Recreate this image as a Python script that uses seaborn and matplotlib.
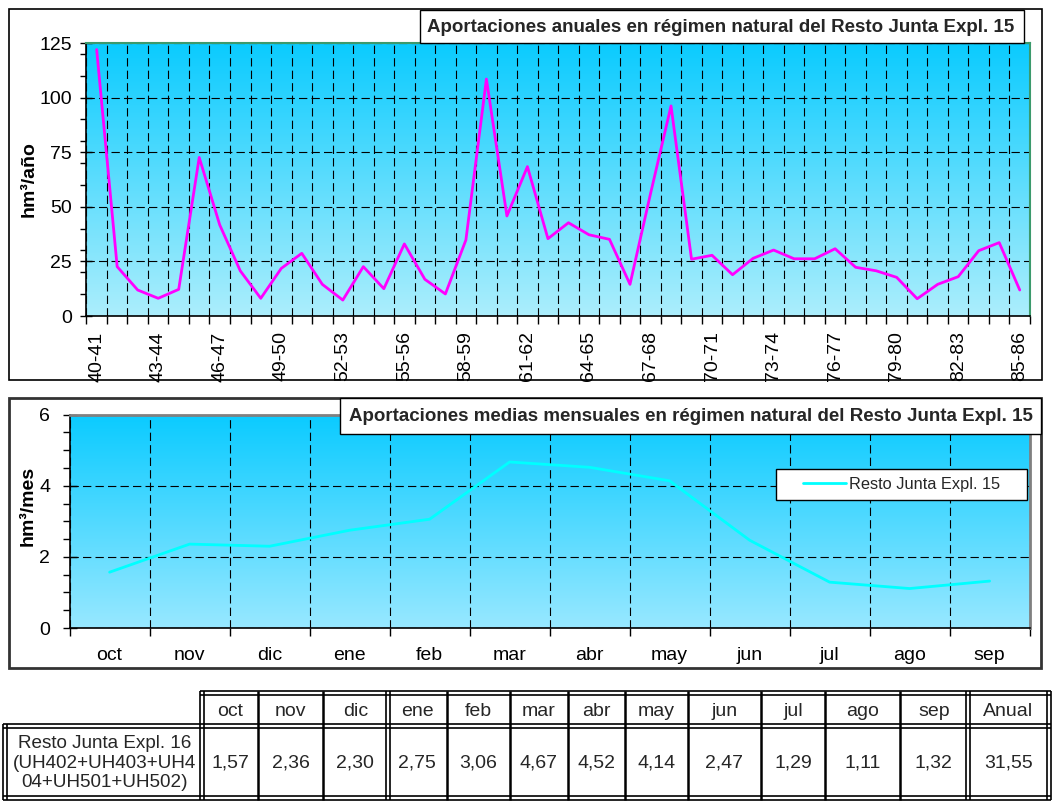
import numpy as np
import seaborn as sns
import matplotlib.pyplot as plt
from matplotlib.patches import Rectangle
from matplotlib.colors import LinearSegmentedColormap
from matplotlib.ticker import MultipleLocator

# datos anuales (hm3/año)
years = ['40-41', '41-42', '42-43', '43-44', '44-45', '45-46', '46-47', '47-48',
         '48-49', '49-50', '50-51', '51-52', '52-53', '53-54', '54-55', '55-56',
         '56-57', '57-58', '58-59', '59-60', '60-61', '61-62', '62-63', '63-64',
         '64-65', '65-66', '66-67', '67-68', '68-69', '69-70', '70-71', '71-72',
         '72-73', '73-74', '74-75', '75-76', '76-77', '77-78', '78-79', '79-80',
         '80-81', '81-82', '82-83', '83-84', '84-85', '85-86']
annual = [122.0, 22.6, 11.9, 8.1, 12.2, 72.6, 41.7, 20.7, 8.1, 21.8, 28.7, 14.5,
          7.3, 22.6, 12.5, 33.0, 16.8, 10.1, 34.8, 108.5, 45.8, 68.4, 35.4, 42.7,
          37.2, 35.1, 14.5, 56.0, 96.2, 26.0, 27.8, 18.9, 26.4, 30.2, 26.2, 26.2,
          30.8, 22.3, 20.7, 17.7, 7.9, 14.5, 18.0, 29.9, 33.6, 11.9]

# medias mensuales (hm3/mes)
months = ['oct', 'nov', 'dic', 'ene', 'feb', 'mar', 'abr', 'may', 'jun', 'jul', 'ago', 'sep']
monthly = [1.57, 2.36, 2.30, 2.75, 3.06, 4.67, 4.52, 4.14, 2.47, 1.29, 1.11, 1.32]
annual_mean = 31.55

series_name = 'Resto Junta Expl. 15'
table_label = 'Resto Junta Expl. 16\n(UH402+UH403+UH4\n04+UH501+UH502)'
title1 = 'Aportaciones anuales en régimen natural del Resto Junta Expl. 15'
title2 = 'Aportaciones medias mensuales en régimen natural del Resto Junta Expl. 15'

sns.set_theme(style="white")
plt.rcParams['font.family'] = ['Liberation Sans', 'DejaVu Sans']
plt.rcParams['lines.scale_dashes'] = False
dash = (0, (6, 3))
fs = 14  # tamaño de letra general

W, H = 1054, 805
fig = plt.figure(figsize=(W / 100, H / 100), dpi=100)


def rect(x0, y0, x1, y1):
    # caja en pixeles -> fraccion de figura
    return [x0 / W, 1 - y1 / H, (x1 - x0) / W, (y1 - y0) / H]


grad = np.linspace(0, 1, 256).reshape(-1, 1)
cmap1 = LinearSegmentedColormap.from_list('g1', ['#0ACBFF', '#ACEEFC'])
cmap2 = LinearSegmentedColormap.from_list('g2', ['#0ACBFF', '#98E8FF'])

# ---- grafico anual ----
r1 = rect(86.4, 43, 1030, 316)
bg1 = fig.add_axes(r1, zorder=0)
bg1.imshow(grad, aspect='auto', cmap=cmap1, extent=[0, 1, 0, 1])
bg1.axis('off')

ax1 = fig.add_axes(r1, zorder=1)
ax1.set_facecolor('none')
sns.lineplot(x=years, y=annual, sort=False, color='#FF00FF', lw=2, ax=ax1)
ax1.set_xlim(-0.5, len(years) - 0.5)
ax1.set_ylim(0, 125)
ax1.set_xticks(range(0, len(years), 3))
ax1.set_xticklabels(years[::3], rotation=90)
ax1.set_xticks(np.arange(-0.5, len(years), 1), minor=True)
ax1.set_yticks(range(0, 126, 25))
ax1.yaxis.set_minor_locator(MultipleLocator(10))
ax1.tick_params(axis='x', which='major', length=0, pad=11, labelsize=fs, colors='black')
ax1.tick_params(axis='x', which='minor', length=5.5, width=1, direction='out',
                color='black', bottom=True)
ax1.tick_params(axis='y', which='major', length=9, width=1, direction='inout', pad=6,
                labelsize=fs, left=True, colors='black')
ax1.tick_params(axis='y', which='minor', length=4.5, width=1, direction='out',
                left=True, color='black')
ax1.grid(True, which='minor', axis='x', color='black', ls=dash, lw=0.8)
ax1.grid(True, which='major', axis='y', color='black', ls=dash, lw=0.8)
ax1.set_xlabel('')
ax1.set_ylabel('hm³/año', fontsize=fs, fontweight='bold', color='black')
ax1.yaxis.set_label_coords(-0.052, 0.5)
for s in ['top', 'right']:
    ax1.spines[s].set_color('#3c9a6c')
    ax1.spines[s].set_linewidth(1.5)
for s in ['left', 'bottom']:
    ax1.spines[s].set_color('black')
    ax1.spines[s].set_linewidth(1.2)

# ---- grafico mensual ----
r2 = rect(69.6, 414.7, 1029.6, 628)
bg2 = fig.add_axes(r2, zorder=0)
bg2.imshow(grad, aspect='auto', cmap=cmap2, extent=[0, 1, 0, 1])
bg2.axis('off')

ax2 = fig.add_axes(r2, zorder=1)
ax2.set_facecolor('none')
sns.lineplot(x=months, y=monthly, sort=False, color='#00FFFF', lw=2, ax=ax2,
             label=series_name)
ax2.set_xlim(-0.5, len(months) - 0.5)
ax2.set_ylim(0, 6)
ax2.set_xticks(range(len(months)))
ax2.set_xticklabels(months)
ax2.set_xticks(np.arange(-0.5, len(months), 1), minor=True)
ax2.set_yticks([0, 2, 4, 6])
ax2.yaxis.set_minor_locator(MultipleLocator(0.5))
ax2.tick_params(axis='x', which='major', length=0, pad=14, labelsize=fs, colors='black')
ax2.tick_params(axis='x', which='minor', length=5.5, width=1, direction='out',
                color='black', bottom=True)
ax2.tick_params(axis='y', which='major', length=10, width=1, direction='inout', pad=9,
                labelsize=fs, left=True, colors='black')
ax2.tick_params(axis='y', which='minor', length=5, width=1, direction='out',
                left=True, color='black')
ax2.grid(True, which='minor', axis='x', color='black', ls=dash, lw=0.8)
ax2.grid(True, which='major', axis='y', color='black', ls=dash, lw=0.8)
ax2.set_xlabel('')
ax2.set_ylabel('hm³/mes', fontsize=fs, fontweight='bold', color='black')
ax2.yaxis.set_label_coords(-0.034, 0.57)
for s in ['top', 'right']:
    ax2.spines[s].set_color('#808080')
    ax2.spines[s].set_linewidth(2)
for s in ['left', 'bottom']:
    ax2.spines[s].set_color('black')
    ax2.spines[s].set_linewidth(1.2)

leg = ax2.legend(loc='center left', bbox_to_anchor=(803 / W, 1 - 484.5 / H),
                 bbox_transform=fig.transFigure, frameon=False, fontsize=11.8,
                 handlelength=2.62, handletextpad=0.18, borderpad=0, borderaxespad=0)
leg.set_zorder(6)

# ---- capa superior en pixeles: marcos, titulos, tabla ----
ov = fig.add_axes([0, 0, 1, 1], zorder=5)
ov.set_xlim(0, W)
ov.set_ylim(H, 0)
ov.axis('off')

ax2.add_patch(Rectangle((776, 469), 251, 31, transform=ov.transData, fc='white',
                        ec='black', lw=1, zorder=5, clip_on=False))

ov.add_patch(Rectangle((9, 9), 1033, 371, fill=False, ec='black', lw=1.2))
ov.add_patch(Rectangle((9, 398), 1032, 270, fill=False, ec='#333333', lw=2))

ov.add_patch(Rectangle((420, 10), 604, 33, fc='white', ec='black', lw=1))
ov.text(721, 27, title1, ha='center', va='center', fontsize=13.5, fontweight='bold')
ov.add_patch(Rectangle((340, 398), 701, 36, fc='white', ec='black', lw=1))
ov.text(690.5, 416, title2, ha='center', va='center', fontsize=13.5, fontweight='bold')

# tabla
headers = months + ['Anual']
values = monthly + [annual_mean]
edges = [202, 258, 323, 387.5, 447, 510, 568, 625, 688, 761, 825, 900, 967.5, 1049]
doubles = {0, 3, 12, 13}
y_top, y_mid, y_bot, x_left = 693, 726, 798, 4.5


def hline(y, x0, x1, double):
    if double:
        for d in (-2, 2):
            ov.plot([x0, x1], [y + d, y + d], color='black', lw=1.2, solid_capstyle='butt')
    else:
        ov.plot([x0, x1], [y, y], color='black', lw=1.8, solid_capstyle='butt')


def vline(x, y0, y1, double):
    if double:
        for d in (-2, 2):
            ov.plot([x + d, x + d], [y0, y1], color='black', lw=1.2, solid_capstyle='butt')
    else:
        ov.plot([x, x], [y0, y1], color='black', lw=1.8, solid_capstyle='butt')


hline(y_top, edges[0] - 2, edges[-1] + 2, True)
hline(y_mid, x_left - 2, edges[-1] + 2, True)
hline(y_bot, x_left - 2, edges[-1] + 2, True)
vline(x_left, y_mid - 2, y_bot + 2, True)
for i, x in enumerate(edges):
    vline(x, y_top - 2, y_bot + 2, i in doubles)

for i, (h, v) in enumerate(zip(headers, values)):
    cx = (edges[i] + edges[i + 1]) / 2
    ov.text(cx, (y_top + y_mid) / 2 + 1.5, h, ha='center', va='center', fontsize=fs)
    ov.text(cx, (y_mid + y_bot) / 2 + 1, f"{v:.2f}".replace('.', ','), ha='center',
            va='center', fontsize=fs)
ov.text((x_left + edges[0]) / 2 + 1, (y_mid + y_bot) / 2 + 1, table_label, ha='center',
        va='center', fontsize=13.6, linespacing=1.2)

fig.savefig('out.png', dpi=100)
